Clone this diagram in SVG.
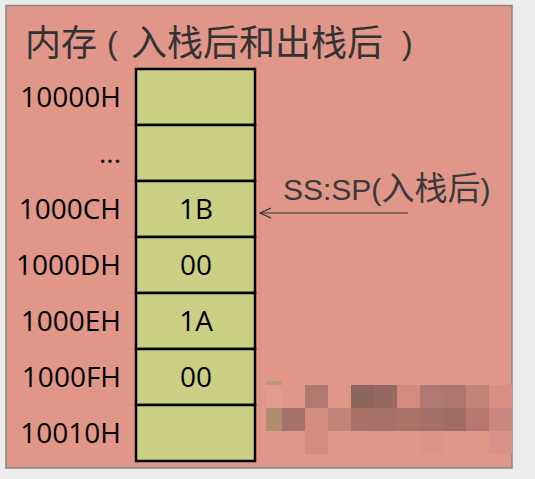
<svg xmlns="http://www.w3.org/2000/svg" width="535" height="479" viewBox="0 0 535 479">
<style>
.lbl{font-family:"Open Sans","Liberation Sans",sans-serif;font-size:28px;fill:#000;text-anchor:end}
.val{font-family:"Open Sans","Liberation Sans",sans-serif;font-size:28px;fill:#000;text-anchor:middle}
.cell{fill:#cbcf84;stroke:#000;stroke-width:2.5}
.cjk{font-family:"Noto Sans CJK SC",sans-serif}
.lat{font-family:"Liberation Sans",Arial,sans-serif}
</style>
<defs>
<marker id="open" markerWidth="14" markerHeight="12" refX="11" refY="6" orient="auto" markerUnits="userSpaceOnUse">
<path d="M0,1 L11,6 L0,11" fill="none" stroke="#333" stroke-width="1.2"/>
</marker>
</defs>
<rect x="0" y="0" width="535" height="479" fill="#ececec"/>
<rect x="6" y="5.5" width="506" height="462.5" fill="#e1968a" stroke="#838783" stroke-width="1.5"/>
<g id="title" fill="#333">
<text class="cjk" x="25" y="56" font-size="36">内存</text>
<text class="lat" x="107" y="54" font-size="32">(</text>
<text class="cjk" x="131" y="56" font-size="36">入栈后和出栈后</text>
<text class="lat" x="402" y="54" font-size="32">)</text>
</g>
<g id="mosaic">
<rect x="266" y="381" width="16" height="4" fill="#b89a7a"/>
<rect x="266" y="385" width="16" height="23" fill="#e39a8e"/>
<rect x="305" y="385" width="23" height="23" fill="#b07a70"/>
<rect x="351" y="385" width="23" height="23" fill="#8c665d"/>
<rect x="374" y="385" width="23" height="23" fill="#966a60"/>
<rect x="397" y="385" width="23" height="23" fill="#d58a80"/>
<rect x="420" y="385" width="23" height="23" fill="#b07870"/>
<rect x="443" y="385" width="23" height="23" fill="#ad766f"/>
<rect x="466" y="385" width="23" height="23" fill="#c08478"/>
<rect x="489" y="385" width="23" height="23" fill="#d98f83"/>
<rect x="266" y="408" width="16" height="23" fill="#ae8e6c"/>
<rect x="282" y="408" width="23" height="23" fill="#a4726a"/>
<rect x="305" y="408" width="23" height="23" fill="#d48c80"/>
<rect x="328" y="408" width="23" height="23" fill="#c08478"/>
<rect x="351" y="408" width="23" height="23" fill="#a87168"/>
<rect x="374" y="408" width="23" height="23" fill="#a67068"/>
<rect x="397" y="408" width="23" height="23" fill="#ab7268"/>
<rect x="420" y="408" width="23" height="23" fill="#a46f68"/>
<rect x="443" y="408" width="23" height="23" fill="#a06c64"/>
<rect x="466" y="408" width="23" height="23" fill="#b47870"/>
<rect x="489" y="408" width="23" height="23" fill="#c8867f"/>
<rect x="305" y="431" width="23" height="23" fill="#d48c80"/>
<rect x="420" y="431" width="23" height="23" fill="#dc9488"/>
<rect x="489" y="431" width="23" height="23" fill="#d8928a"/>
</g>
<g id="cell-10000H"><rect class="cell" x="136" y="69" width="119" height="56"/><text class="lbl" x="121" y="107">10000H</text></g>
<g id="cell-dots"><rect class="cell" x="136" y="125" width="119" height="56"/><text class="lbl" x="121" y="163">...</text></g>
<g id="cell-1000CH"><rect class="cell" x="136" y="181" width="119" height="56"/><text class="lbl" x="121" y="219">1000CH</text><text class="val" x="196" y="219">1B</text></g>
<g id="cell-1000DH"><rect class="cell" x="136" y="237" width="119" height="56"/><text class="lbl" x="121" y="275">1000DH</text><text class="val" x="196" y="275">00</text></g>
<g id="cell-1000EH"><rect class="cell" x="136" y="293" width="119" height="56"/><text class="lbl" x="121" y="331">1000EH</text><text class="val" x="196" y="331">1A</text></g>
<g id="cell-1000FH"><rect class="cell" x="136" y="349" width="119" height="56"/><text class="lbl" x="121" y="387">1000FH</text><text class="val" x="196" y="387">00</text></g>
<g id="cell-10010H"><rect class="cell" x="136" y="405" width="119" height="56"/><text class="lbl" x="121" y="443">10010H</text></g>
<g id="pointer" fill="#3a3a3a">
<text class="lat" x="283" y="200" font-size="30">SS:SP(<tspan class="cjk" font-size="33">入栈后</tspan>)</text>
</g>
<g id="connectors">
<line x1="408" y1="213" x2="260" y2="213" stroke="#333" stroke-width="1.2" marker-end="url(#open)"/>
</g>
</svg>
